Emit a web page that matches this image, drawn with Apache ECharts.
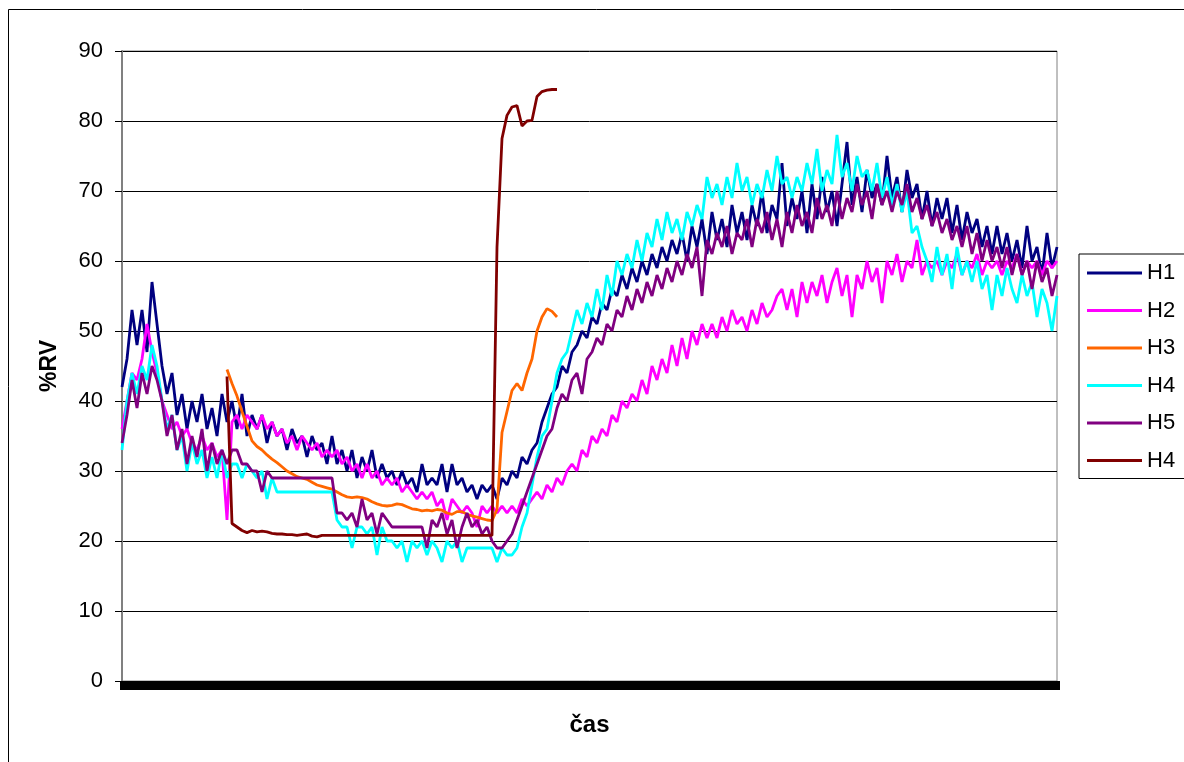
<!DOCTYPE html>
<html>
<head>
<meta charset="utf-8">
<script src="https://cdn.jsdelivr.net/npm/echarts@6/dist/echarts.min.js"></script>
<style>
  html, body { margin: 0; padding: 0; background: #fff; }
  #chart { width: 1184px; height: 762px; }
</style>
</head>
<body>
<div id="chart"></div>
<script>
// relative humidity samples, one per time step (x axis has no labels)
const H1 = [
  42, 46, 53, 48, 53, 47, 57, 51, 45, 41,
  44, 38, 41, 36, 40, 37, 41, 36, 39, 35,
  41, 37, 40, 36, 41, 35, 38, 36, 38, 34,
  37, 35, 36, 33, 36, 34, 35, 32, 35, 33,
  34, 31, 35, 31, 33, 30, 33, 29, 32, 30,
  33, 29, 31, 29, 30, 28, 30, 28, 29, 27,
  31, 28, 29, 28, 31, 27, 31, 28, 29, 27,
  28, 26, 28, 27, 28, 26, 29, 28, 30, 29,
  32, 31, 33, 34, 37, 39, 41, 42, 45, 44,
  47, 48, 50, 49, 52, 51, 54, 53, 56, 55,
  58, 56, 59, 57, 60, 58, 61, 59, 62, 60,
  63, 61, 64, 60, 65, 62, 66, 61, 67, 63,
  66, 62, 68, 64, 67, 63, 68, 65, 70, 64,
  68, 66, 74, 65, 69, 66, 70, 64, 71, 66,
  72, 67, 70, 65, 71, 77, 68, 72, 67, 73,
  69, 71, 68, 75, 69, 72, 67, 73, 69, 71,
  66, 70, 65, 69, 66, 69, 64, 68, 63, 67,
  64, 66, 62, 65, 61, 65, 61, 64, 60, 63,
  59, 65, 60, 62, 58, 64, 59, 62
];
const H2 = [
  36, 40, 44, 43, 46, 51, 47, 44, 40, 38,
  36, 37, 35, 36, 34, 33, 35, 33, 34, 32,
  33, 23, 37, 38, 36, 38, 37, 36, 38, 36,
  37, 35, 36, 34, 35, 33, 35, 34, 33, 34,
  32, 33, 32, 33, 31, 32, 30, 31, 29, 31,
  29, 30, 28, 29, 28, 29, 27, 28, 27, 26,
  27, 26, 27, 25, 26, 23, 26, 25, 24, 25,
  24, 22, 25, 24, 25, 24, 25, 24, 25, 24,
  26, 25, 26, 27, 26, 28, 27, 29, 28, 30,
  31, 30, 33, 32, 35, 34, 36, 35, 38, 37,
  40, 39, 41, 40, 43, 41, 45, 43, 46, 44,
  48, 45, 49, 46, 50, 48, 51, 49, 51, 49,
  52, 50, 53, 51, 52, 50, 53, 51, 54, 52,
  53, 55, 56, 53, 56, 52, 57, 54, 57, 55,
  58, 54, 57, 59, 55, 58, 52, 58, 56, 60,
  57, 59, 54, 60, 58, 61, 57, 60, 59, 63,
  58, 60, 59, 60, 58, 60, 59, 61, 58, 60,
  59, 61, 58, 60, 59, 60, 58, 60, 59, 61,
  58, 60, 59, 60, 58, 60, 59, 60
];
const H3 = [
  null, null, null, null, null, null, null, null, null, null,
  null, null, null, null, null, null, null, null, null, null,
  null, 44.5, 42.5, 40.7, 38.5, 36.4, 34.3, 33.5, 33, 32.3,
  31.7, 31.2, 30.6, 30, 29.6, 29.2, 29, 28.8, 28.4, 28,
  27.8, 27.6, 27.4, 27, 26.6, 26.3, 26.2, 26.3, 26.2, 26,
  25.6, 25.3, 25.1, 25, 25.1, 25.3, 25.2, 24.9, 24.6, 24.5,
  24.3, 24.4, 24.3, 24.5, 24.4, 24, 23.8, 24.2, 24.2, 23.8,
  23.6, 23.4, 23.2, 23, 22.9, 24.5, 35.5, 38.5, 41.5, 42.5,
  41.5, 44, 46, 50, 52, 53.2, 52.8, 52
];
const H4 = [
  33, 40, 44, 41, 45, 43, 48, 45, 40, 36,
  38, 33, 35, 30, 34, 31, 33, 29, 32, 29,
  33, 29, 31, 31, 29, 31, 30, 29, 30, 26,
  29, 27, 27, 27, 27, 27, 27, 27, 27, 27,
  27, 27, 27, 23, 22, 22, 19, 22, 22, 21,
  22, 18, 22, 20, 20, 19, 20, 17, 20, 19,
  20, 18, 20, 19, 17, 20, 19, 20, 17, 19,
  19, 19, 19, 19, 19, 17, 19, 18, 18, 19,
  22, 24, 28, 32, 35, 36, 40, 44, 46, 47,
  50, 53, 51, 54, 52, 56, 53, 58, 55, 60,
  58, 61, 59, 63, 60, 64, 62, 66, 63, 67,
  64, 66, 63, 67, 65, 68, 66, 72, 69, 71,
  68, 72, 69, 74, 70, 72, 68, 71, 69, 73,
  70, 75, 71, 72, 69, 72, 70, 74, 71, 76,
  70, 73, 71, 78, 72, 74, 70, 75, 72, 73,
  70, 74, 69, 72, 68, 71, 67, 70, 64, 65,
  62, 60, 57, 62, 58, 61, 56, 62, 58, 60,
  57, 60, 56, 58, 53, 58, 55, 59, 56, 54,
  58, 55, 57, 52, 56, 54, 50, 55
];
const H5 = [
  34, 38, 43, 39, 44, 41, 45, 43, 40, 35,
  38, 33, 36, 31, 35, 32, 36, 30, 34, 31,
  33, 31, 33, 33, 31, 31, 30, 30, 27, 30,
  29, 29, 29, 29, 29, 29, 29, 29, 29, 29,
  29, 29, 29, 24, 24, 23, 24, 22, 26, 23,
  24, 21, 24, 23, 22, 22, 22, 22, 22, 22,
  22, 19, 23, 22, 24, 21, 23, 19, 22, 24,
  22, 23, 21, 22, 20, 19, 19, 20, 21, 23,
  25, 27, 29, 31, 33, 35, 36, 39, 41, 40,
  43, 44, 41, 46, 47, 49, 48, 51, 50, 53,
  52, 55, 53, 56, 54, 57, 55, 58, 56, 59,
  57, 60, 58, 61, 59, 62, 55, 63, 61, 64,
  62, 65, 61, 64, 63, 66, 62, 66, 64, 67,
  63, 66, 62, 67, 64, 68, 65, 67, 64, 69,
  66, 68, 65, 70, 66, 69, 67, 71, 68, 70,
  66, 71, 68, 70, 67, 70, 68, 71, 67, 69,
  66, 68, 65, 67, 64, 66, 63, 65, 62, 65,
  61, 64, 60, 63, 60, 62, 59, 62, 58, 61,
  58, 60, 56, 60, 57, 59, 55, 58
];
// second sensor also labelled H4 in the original legend
const H4b = [
  null, null, null, null, null, null, null, null, null, null,
  null, null, null, null, null, null, null, null, null, null,
  null, 43.5, 22.5, 22, 21.5, 21.2, 21.5, 21.3, 21.4, 21.3,
  21.1, 21, 21, 20.9, 20.9, 20.8, 20.9, 21, 20.7, 20.6,
  20.8, 20.8, 20.8, 20.8, 20.8, 20.8, 20.8, 20.8, 20.8, 20.8,
  20.8, 20.8, 20.8, 20.8, 20.8, 20.8, 20.8, 20.8, 20.8, 20.8,
  20.8, 20.8, 20.8, 20.8, 20.8, 20.8, 20.8, 20.8, 20.8, 20.8,
  20.8, 20.8, 20.8, 20.8, 20.8, 62, 77.5, 80.8, 82, 82.2,
  79.3, 80, 80.1, 83.5, 84.2, 84.4, 84.5, 84.5
];

const seriesNames = ['H1', 'H2', 'H3', 'H4', 'H5', 'H4 '];
const seriesData = [H1, H2, H3, H4, H5, H4b];
const seriesColors = ['#000080', '#ff00ff', '#ff6600', '#00ffff', '#800080', '#800000'];
const steps = H1.map((_, i) => String(i + 1));

const font = 'Liberation Sans, Arial, sans-serif';
const chart = echarts.init(document.getElementById('chart'));

chart.setOption({
  animation: false,
  backgroundColor: '#fff',
  color: seriesColors,
  graphic: [{
    type: 'rect',
    shape: { x: 8.5, y: 9.5, width: 1250, height: 800 },
    style: { fill: null, stroke: '#000', lineWidth: 1 },
    silent: true
  }],
  grid: {
    left: 122, top: 51, width: 935, height: 630,
    show: true, borderColor: '#808080', borderWidth: 1
  },
  legend: {
    orient: 'vertical',
    left: 1079, top: 254,
    padding: [8, 40, 7, 8],
    itemGap: 15.5,
    itemWidth: 55, itemHeight: 3,
    icon: 'rect',
    borderColor: '#000', borderWidth: 1,
    formatter: name => name.trim(),
    textStyle: { fontFamily: font, fontSize: 22, lineHeight: 22, color: '#000' },
    data: seriesNames
  },
  xAxis: {
    type: 'category',
    data: steps,
    boundaryGap: false,
    name: 'čas',
    nameLocation: 'middle',
    nameGap: 32,
    nameTextStyle: { fontFamily: font, fontSize: 24, fontWeight: 'bold', color: '#000' },
    axisLine: { lineStyle: { color: '#000', width: 1 } },
    axisTick: { show: true, interval: 0, length: 9, lineStyle: { color: '#000', width: 5 } },
    axisLabel: { show: false },
    splitLine: { show: false }
  },
  yAxis: {
    type: 'value',
    min: 0, max: 90, interval: 10,
    name: '%RV',
    nameLocation: 'middle',
    nameGap: 61,
    nameTextStyle: { fontFamily: font, fontSize: 23, fontWeight: 'bold', color: '#000' },
    axisLine: { show: true, lineStyle: { color: '#808080', width: 2 } },
    axisTick: { show: true, length: 7, lineStyle: { color: '#000' } },
    axisLabel: { margin: 19, fontFamily: font, fontSize: 22, color: '#000' },
    splitLine: { lineStyle: { color: '#000', width: 1 } }
  },
  series: seriesNames.map((name, k) => ({
    name: name,
    type: 'line',
    data: seriesData[k],
    showSymbol: false,
    symbol: 'none',
    connectNulls: false,
    lineStyle: { width: 2.8, color: seriesColors[k] },
    itemStyle: { color: seriesColors[k] }
  }))
});
</script>
</body>
</html>
